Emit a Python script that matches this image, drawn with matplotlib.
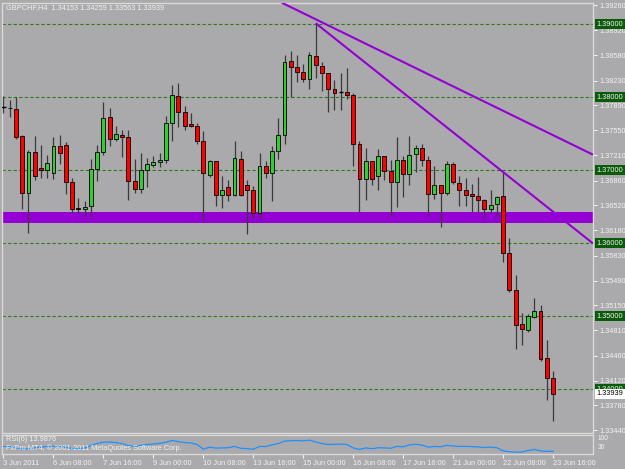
import matplotlib.pyplot as plt

# --------------------------------------------------------------
# GBPCHF H4, 3 Jun - 23 Jun 2011
# --------------------------------------------------------------
opens = [1.37872, 1.37859, 1.37845, 1.37476, 1.36693, 1.37253, 1.37035, 1.37002, 1.36966, 1.37330,
         1.37343, 1.36838, 1.36488, 1.36474, 1.36510, 1.37021, 1.37253, 1.37732, 1.37431, 1.37490,
         1.37458, 1.36851, 1.36747, 1.37002, 1.37080, 1.37116, 1.37148, 1.37650, 1.38023, 1.37794,
         1.37640, 1.37603, 1.37408, 1.36933, 1.37125, 1.36670, 1.36775, 1.36660, 1.37162, 1.36797,
         1.36738, 1.36419, 1.37066, 1.36966, 1.37261, 1.37480, 1.38501, 1.38423, 1.38347, 1.38251,
         1.38574, 1.38437, 1.38341, 1.38114, 1.38068, 1.38073, 1.38030, 1.37367, 1.36884, 1.37125,
         1.36929, 1.37193, 1.36998, 1.36840, 1.37141, 1.36952, 1.37230, 1.37308, 1.37144, 1.36680,
         1.36802, 1.36693, 1.37090, 1.36829, 1.36727, 1.36674, 1.36646, 1.36601, 1.36474, 1.36544,
         1.36656, 1.35873, 1.35357, 1.34893, 1.34815, 1.34998, 1.35074, 1.34437, 1.34153]
highs = [1.38023, 1.37968, 1.38005, 1.37490, 1.37275, 1.37476, 1.37343, 1.37207, 1.37458, 1.37490,
         1.37384, 1.36898, 1.36624, 1.36588, 1.37162, 1.37353, 1.37937, 1.37855, 1.37603, 1.37548,
         1.37548, 1.37157, 1.37240, 1.37171, 1.37203, 1.37240, 1.37740, 1.38173, 1.38196, 1.37886,
         1.37786, 1.37650, 1.37535, 1.37148, 1.37134, 1.36929, 1.36865, 1.37408, 1.37271, 1.36865,
         1.36783, 1.37240, 1.37125, 1.37330, 1.37718, 1.38583, 1.38638, 1.38583, 1.38456, 1.38620,
         1.39016, 1.38491, 1.38341, 1.38241, 1.38333, 1.38401, 1.38060, 1.37398, 1.37312, 1.37125,
         1.37294, 1.37193, 1.37148, 1.37453, 1.37203, 1.37476, 1.37353, 1.37357, 1.37203, 1.37056,
         1.36806, 1.37125, 1.37111, 1.36929, 1.36902, 1.36810, 1.36911, 1.36611, 1.36738, 1.36646,
         1.36981, 1.36078, 1.35562, 1.35052, 1.35039, 1.35248, 1.35152, 1.34678, 1.34259]
lows = [1.37790, 1.37726, 1.37431, 1.36474, 1.36137, 1.36875, 1.36898, 1.36898, 1.36884, 1.37093,
        1.36683, 1.36419, 1.36419, 1.36365, 1.36359, 1.36851, 1.37207, 1.37330, 1.37398, 1.37185,
        1.36592, 1.36693, 1.36693, 1.36775, 1.37048, 1.37048, 1.37103, 1.37398, 1.37595, 1.37548,
        1.37595, 1.37362, 1.36318, 1.36916, 1.36519, 1.36488, 1.36578, 1.36646, 1.36646, 1.36123,
        1.36351, 1.36328, 1.36898, 1.36578, 1.37162, 1.37367, 1.38013, 1.38218, 1.38218, 1.38118,
        1.38273, 1.38082, 1.37797, 1.37822, 1.37822, 1.37982, 1.37056, 1.36424, 1.36601, 1.36806,
        1.36738, 1.36875, 1.36376, 1.36499, 1.36635, 1.36806, 1.36977, 1.37066, 1.36376, 1.36605,
        1.36228, 1.36663, 1.36820, 1.36510, 1.36510, 1.36428, 1.36434, 1.36351, 1.36414, 1.36378,
        1.35744, 1.35334, 1.34551, 1.34605, 1.34787, 1.34984, 1.34391, 1.33858, 1.33563]
closes = [1.37868, 1.37852, 1.37458, 1.36693, 1.37253, 1.36929, 1.37002, 1.37103, 1.37330, 1.37240,
          1.36843, 1.36474, 1.36474, 1.36501, 1.37021, 1.37253, 1.37718, 1.37431, 1.37499, 1.37458,
          1.36851, 1.36747, 1.37002, 1.37089, 1.37111, 1.37148, 1.37650, 1.38036, 1.37794, 1.37613,
          1.37603, 1.37408, 1.36966, 1.37125, 1.36670, 1.36738, 1.36670, 1.37171, 1.36670, 1.36728,
          1.36419, 1.37056, 1.36966, 1.37261, 1.37480, 1.38483, 1.38423, 1.38347, 1.38251, 1.38583,
          1.38446, 1.38341, 1.38114, 1.38060, 1.38065, 1.38036, 1.37367, 1.36884, 1.37125, 1.36888,
          1.37193, 1.36998, 1.36840, 1.37141, 1.36952, 1.37216, 1.37312, 1.37148, 1.36680, 1.36802,
          1.36693, 1.37090, 1.36840, 1.36734, 1.36670, 1.36646, 1.36601, 1.36474, 1.36533, 1.36638,
          1.35873, 1.35361, 1.34883, 1.34834, 1.35006, 1.35074, 1.34414, 1.34150, 1.33939]

# RSI(6) sub-window
rsi = [40, 38, 34, 26, 27, 33, 36, 40, 42, 40, 35, 28, 29, 31, 45, 55, 62, 63, 60, 55,
       44, 40, 45, 50, 53, 56, 62, 71, 65, 60, 58, 50, 25, 36, 31, 32, 33, 40, 30, 28,
       25, 40, 39, 48, 55, 68, 70, 71, 69, 73, 63, 55, 50, 51, 52, 50, 32, 24, 32, 28,
       33, 32, 30, 40, 38, 48, 51, 47, 36, 40, 38, 46, 42, 40, 40, 39, 37, 34, 36, 33,
       17, 12, 10, 10, 18, 24, 16, 14, 14]

price_ticks = [1.39260, 1.38920, 1.38580, 1.38230, 1.37890, 1.37550, 1.37210, 1.36860, 1.36520,
               1.36180, 1.35830, 1.35490, 1.35150, 1.34810, 1.34460, 1.34120, 1.33780, 1.33440]
round_levels = [1.39, 1.38, 1.37, 1.36, 1.35, 1.34]
last_price = 1.33939

date_pos = [0, 8, 16, 24, 32, 40, 48, 56, 64, 72, 80, 88]
date_labels = ["3 Jun 2011", "6 Jun 08:00", "7 Jun 16:00", "9 Jun 00:00", "10 Jun 08:00",
               "13 Jun 16:00", "15 Jun 00:00", "16 Jun 08:00", "17 Jun 16:00", "21 Jun 00:00",
               "22 Jun 08:00", "23 Jun 16:00"]

# hand-drawn objects
band_lo, band_hi = 1.36283, 1.36430
trend1_x, trend1_y = [44.56, 94.4], [1.39298, 1.37216]
trend2_x, trend2_y = [50, 94.4], [1.39016, 1.36000]

plt.rcParams["font.family"] = ["Liberation Sans", "DejaVu Sans"]

BG = "#aaaaac"
TXT = "#f2f2f2"
GRID = "#2f7a1f"
PURPLE = "#9400d3"
FS = 5.3

fig = plt.figure(figsize=(6.25, 4.69), dpi=100, facecolor=BG)
ax = fig.add_axes([2 / 625, 1 - 433 / 469, 591 / 625, 430 / 469], facecolor=BG)
ax_rsi = fig.add_axes([2 / 625, 1 - 454 / 469, 591 / 625, 19 / 469], facecolor=BG)

# --------------------------------------------------------------
# Main price window
# --------------------------------------------------------------
for lvl in round_levels:
    ax.axhline(lvl, color=GRID, lw=0.8, ls=(0, (3, 2)), zorder=1)

ax.axhspan(band_lo, band_hi, color=PURPLE, lw=0, zorder=2)

for i in range(len(opens)):
    o, h, l, c = opens[i], highs[i], lows[i], closes[i]
    ax.vlines(i, l, h, color="#3a3a3a", lw=0.9, zorder=3)
    col = "#33cc33" if c >= o else "#ff0000"
    if abs(c - o) < 0.00006:
        ax.hlines(o, i - 0.35, i + 0.35, color="black", lw=1.0, zorder=4)
    else:
        ax.bar(i, abs(c - o), bottom=min(o, c), width=0.62, color=col,
               edgecolor="black", lw=0.6, zorder=4)

ax.plot(trend1_x, trend1_y, color=PURPLE, lw=1.5, zorder=5, solid_capstyle="butt")
ax.plot(trend2_x, trend2_y, color=PURPLE, lw=1.5, zorder=5, solid_capstyle="butt")

ax.set_xlim(-0.24, 94.4)
ax.set_ylim(1.33403, 1.39294)
ax.set_xticks([])
ax.yaxis.tick_right()
ax.set_yticks(price_ticks)
ax.set_yticklabels([f"{t:.5f}" for t in price_ticks])
ax.tick_params(axis="y", colors=TXT, labelsize=FS, length=3, width=0.8, pad=1.5)
for s in ax.spines.values():
    s.set_color("#d8d8d8")
    s.set_linewidth(1.0)

# boxes for the round levels and the last price on the price scale
for lvl in round_levels:
    ax.annotate(f"{lvl:.5f}", xy=(1.0, lvl), xycoords=("axes fraction", "data"),
                xytext=(2.6, 0), textcoords="offset points", fontsize=FS, color=TXT,
                va="center", ha="left", zorder=6, annotation_clip=False,
                bbox=dict(boxstyle="square,pad=0.2", fc="#0b5a0b", ec="none"))
ax.annotate(f"{last_price:.5f}", xy=(1.0, last_price), xycoords=("axes fraction", "data"),
            xytext=(2.6, 0), textcoords="offset points", fontsize=FS, color="black",
            va="center", ha="left", zorder=6, annotation_clip=False,
            bbox=dict(boxstyle="square,pad=0.2", fc="white", ec="none"))

fig.text(6 / 625, 1 - 8 / 469, "GBPCHF,H4  1.34153 1.34259 1.33563 1.33939",
         fontsize=FS, color=TXT, va="center", ha="left")

# --------------------------------------------------------------
# RSI window
# --------------------------------------------------------------
ax_rsi.plot(range(len(rsi)), rsi, color="#1e90ff", lw=0.9)
ax_rsi.set_xlim(-0.24, 94.4)
ax_rsi.set_ylim(0, 100)
ax_rsi.set_yticks([])
ax_rsi.set_xticks(date_pos)
ax_rsi.set_xticklabels(date_labels, ha="left")
ax_rsi.tick_params(axis="x", colors=TXT, labelsize=FS, length=3, width=0.8, pad=1.5)
for s in ax_rsi.spines.values():
    s.set_color("#d8d8d8")
    s.set_linewidth(1.0)
ax_rsi.text(0.006, 0.75, "RSI(6) 13.9876", transform=ax_rsi.transAxes,
            fontsize=FS, color=TXT, va="center", ha="left")
ax_rsi.text(0.006, 0.3, "FxPro MT4, \u00a9 2001-2011 MetaQuotes Software Corp.",
            transform=ax_rsi.transAxes, fontsize=FS, color=TXT, va="center", ha="left")
ax_rsi.text(1.008, 0.8, "100", transform=ax_rsi.transAxes, fontsize=4.8, color=TXT,
            va="center", ha="left")
ax_rsi.text(1.008, 0.35, "30", transform=ax_rsi.transAxes, fontsize=4.8, color=TXT,
            va="center", ha="left")

fig.savefig("out.png", dpi=100, facecolor=BG)
